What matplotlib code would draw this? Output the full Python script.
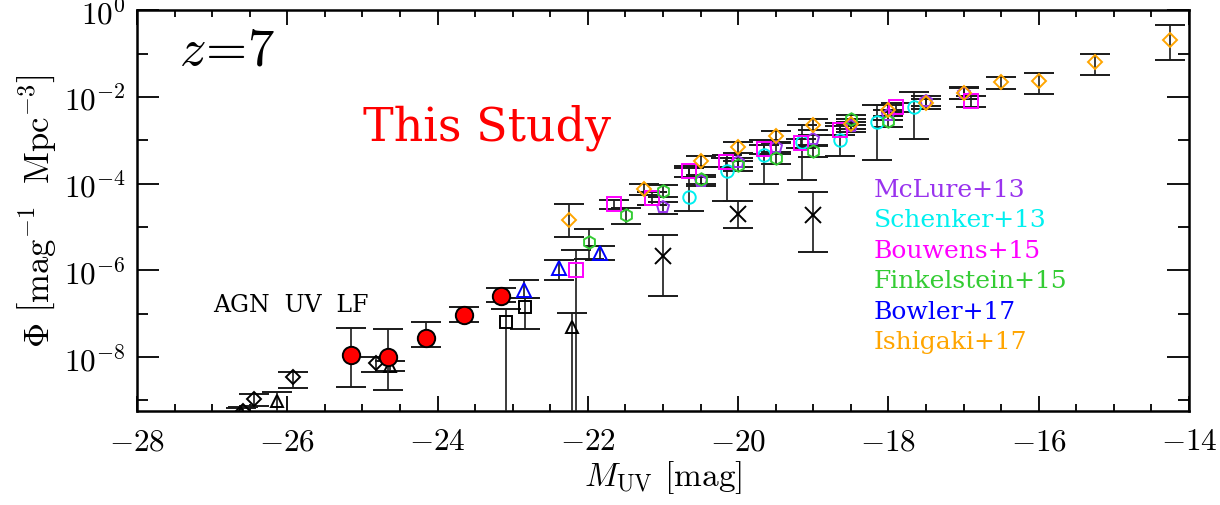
import numpy as np
import matplotlib
matplotlib.use("Agg")
import matplotlib.pyplot as plt
from matplotlib.ticker import FixedLocator, MultipleLocator, NullFormatter, LogFormatterSciNotation

plt.rcParams['font.family'] = 'serif'
plt.rcParams['font.serif'] = ['cmr10', 'DejaVu Serif']
plt.rcParams['mathtext.fontset'] = 'cm'
plt.rcParams['axes.formatter.use_mathtext'] = True

# values: M_UV, log10(phi), lower / upper error in dex
# (a lower error of 9 means the bar runs down to the axis)
study_m = [-25.15, -24.66, -24.15, -23.65, -23.15]
study_lp = [-7.95, -7.99, -7.57, -7.02, -6.58]
study_lo = [0.74, 0.76, 0.19, 0.16, 0.16]
study_hi = [0.61, 0.64, 0.38, 0.18, 0.18]

agn_dia_m = [-26.59, -26.44, -25.92, -24.82]
agn_dia_lp = [-9.24, -8.97, -8.47, -8.14]
agn_dia_lo = [0.10, 0.15, 0.25, 0.20]
agn_dia_hi = [0.10, 0.13, 0.13, 0.14]

agn_tri_m = [-26.62, -26.14, -24.63, -22.21]
agn_tri_lp = [-9.30, -9.01, -8.20, -7.30]
agn_tri_lo = [0.10, 0.50, 0.12, 9.0]
agn_tri_hi = [0.12, 0.20, 0.12, 0.32]

agn_sq_m = [-23.09, -22.83]
agn_sq_lp = [-7.19, -6.85]
agn_sq_lo = [9.0, 0.51]
agn_sq_hi = [0.29, 0.21]

agn_x_m = [-21.0, -20.0, -19.0]
agn_x_lp = [-5.68, -4.70, -4.72]
agn_x_lo = [0.90, 0.32, 0.86]
agn_x_hi = [0.50, 0.30, 0.53]

mclure_m = [-21.0, -20.5, -20.0, -19.5, -19.0, -18.5, -18.0, -17.5, -17.0]
mclure_lp = [-4.55, -3.94, -3.50, -3.16, -2.98, -2.68, -2.41, -2.09, -1.91]
mclure_lo = [0.14, 0.12, 0.12, 0.12, 0.12, 0.12, 0.12, 0.12, 0.14]
mclure_hi = [0.12, 0.10, 0.10, 0.10, 0.10, 0.10, 0.10, 0.10, 0.12]

schenker_m = [-20.65, -20.15, -19.65, -19.15, -18.65, -18.15, -17.66]
schenker_lp = [-4.30, -3.72, -3.33, -3.03, -2.99, -2.57, -2.24]
schenker_lo = [0.32, 0.68, 0.67, 0.88, 0.38, 0.89, 0.73]
schenker_hi = [0.65, 0.37, 0.34, 0.38, 0.38, 0.39, 0.36]

bouwens_m = [-22.16, -21.65, -21.15, -20.65, -20.16, -19.65, -19.16, -18.65, -17.90, -16.90]
bouwens_lp = [-6.00, -4.48, -4.34, -3.71, -3.50, -3.20, -3.06, -2.76, -2.24, -2.09]
bouwens_lo = [9.0, 0.11, 0.15, 0.14, 0.12, 0.12, 0.12, 0.12, 0.12, 0.14]
bouwens_hi = [0.47, 0.10, 0.14, 0.11, 0.10, 0.10, 0.10, 0.10, 0.10, 0.12]

finkel_m = [-21.99, -21.49, -21.0, -20.5, -20.0, -19.5, -19.0, -18.5, -18.0]
finkel_lp = [-5.35, -4.73, -4.17, -3.90, -3.58, -3.42, -3.25, -2.52, -2.55]
finkel_lo = [0.39, 0.19, 0.13, 0.12, 0.12, 0.12, 0.13, 0.12, 0.14]
finkel_hi = [0.31, 0.16, 0.13, 0.11, 0.11, 0.11, 0.12, 0.11, 0.12]

bowler_m = [-22.85, -22.39, -21.84]
bowler_lp = [-6.46, -5.95, -5.59]
bowler_lo = [0.18, 0.28, 0.18]
bowler_hi = [0.23, 0.18, 0.16]

ishi_m = [-22.25, -21.25, -20.5, -20.0, -19.5, -19.0, -18.5, -18.0, -17.5, -17.0, -16.5, -16.0, -15.25, -14.25]
ishi_lp = [-4.83, -4.13, -3.49, -3.15, -2.91, -2.64, -2.62, -2.30, -2.15, -1.90, -1.65, -1.64, -1.19, -0.70]
ishi_lo = [0.39, 0.14, 0.12, 0.14, 0.14, 0.12, 0.12, 0.14, 0.14, 0.14, 0.17, 0.29, 0.30, 0.45]
ishi_hi = [0.36, 0.11, 0.12, 0.12, 0.12, 0.12, 0.12, 0.12, 0.10, 0.12, 0.11, 0.19, 0.19, 0.36]

legend_names = ['McLure+13', 'Schenker+13', 'Bouwens+15', 'Finkelstein+15', 'Bowler+17', 'Ishigaki+17']
legend_colors = ['#9933ee', '#00f0f0', '#ff00ff', '#33cc33', '#0000ff', '#ffa500']

y_major = [1e-8, 1e-6, 1e-4, 1e-2, 1e0]
y_minor = [1e-9, 1e-7, 1e-5, 1e-3, 1e-1]


def draw(ax, m, lp, lo, hi, marker, color, ms=9, mfc='none', z=3, ecol='0.1'):
    lp = np.array(lp)
    phi = 10.0 ** lp
    err_lo = phi - 10.0 ** (lp - np.array(lo))
    err_hi = 10.0 ** (lp + np.array(hi)) - phi
    ax.errorbar(m, phi, yerr=[err_lo, err_hi], fmt=marker, ms=ms, mfc=mfc,
                mec=color, mew=1.4, ecolor=ecol, elinewidth=1.2,
                capsize=11, capthick=1.2, zorder=z)


fig = plt.figure(figsize=(12.2, 5.06), dpi=100)
ax = fig.add_axes([0.1123, 0.186, 0.8623, 0.792])

draw(ax, agn_dia_m, agn_dia_lp, agn_dia_lo, agn_dia_hi, 'D', 'k', ms=7)
draw(ax, agn_tri_m, agn_tri_lp, agn_tri_lo, agn_tri_hi, '^', 'k', ms=9)
draw(ax, agn_sq_m, agn_sq_lp, agn_sq_lo, agn_sq_hi, 's', 'k', ms=9)
draw(ax, agn_x_m, agn_x_lp, agn_x_lo, agn_x_hi, 'x', 'k', ms=11)
draw(ax, mclure_m, mclure_lp, mclure_lo, mclure_hi, 'p', legend_colors[0])
draw(ax, schenker_m, schenker_lp, schenker_lo, schenker_hi, 'o', legend_colors[1])
draw(ax, bouwens_m, bouwens_lp, bouwens_lo, bouwens_hi, 's', legend_colors[2], ms=10)
draw(ax, finkel_m, finkel_lp, finkel_lo, finkel_hi, 'h', legend_colors[3])
draw(ax, bowler_m, bowler_lp, bowler_lo, bowler_hi, '^', legend_colors[4], ms=10)
draw(ax, ishi_m, ishi_lp, ishi_lo, ishi_hi, 'D', legend_colors[5], ms=7)
draw(ax, study_m, study_lp, study_lo, study_hi, 'o', 'k', ms=12.5, mfc='red', z=5)

ax.set_yscale('log')
ax.set_xlim(-28, -14)
ax.set_ylim(10 ** -9.24, 1)

ax.xaxis.set_major_locator(MultipleLocator(2))
ax.xaxis.set_minor_locator(MultipleLocator(0.5))
ax.yaxis.set_major_locator(FixedLocator(y_major))
ax.yaxis.set_major_formatter(LogFormatterSciNotation())
ax.yaxis.set_minor_locator(FixedLocator(y_minor))
ax.yaxis.set_minor_formatter(NullFormatter())

ax.tick_params(which='both', direction='in', top=True, right=True, labelsize=22.5, width=1.3)
ax.tick_params(axis='x', which='major', length=11, pad=12)
ax.tick_params(axis='x', which='minor', length=5)
ax.tick_params(axis='y', which='major', length=16, pad=8)
ax.tick_params(axis='y', which='minor', length=8)
for s in ax.spines.values():
    s.set_linewidth(1.8)

ax.set_xlabel(r'$M_{\rm UV}$ [mag]', fontsize=24, labelpad=2)
ax.set_ylabel(r'$\Phi\ \left[{\rm mag^{-1}\ \ Mpc^{-3}}\right]$', fontsize=25, labelpad=4)

ax.text(0.04, 0.90, r'$z\!=\!7$', transform=ax.transAxes, fontsize=38, va='center')
ax.text(0.215, 0.71, 'This Study', transform=ax.transAxes, color='red',
        fontsize=33, family='DejaVu Serif', va='center')
ax.text(0.072, 0.265, 'AGN  UV  LF', transform=ax.transAxes, color='k',
        fontsize=17, family='DejaVu Serif', va='center')

for i, (name, col) in enumerate(zip(legend_names, legend_colors)):
    ax.text(0.70, 0.553 - i * 0.076, name, transform=ax.transAxes, color=col,
            fontsize=18, family='DejaVu Serif', va='center')

fig.savefig('out.png', dpi=100)
